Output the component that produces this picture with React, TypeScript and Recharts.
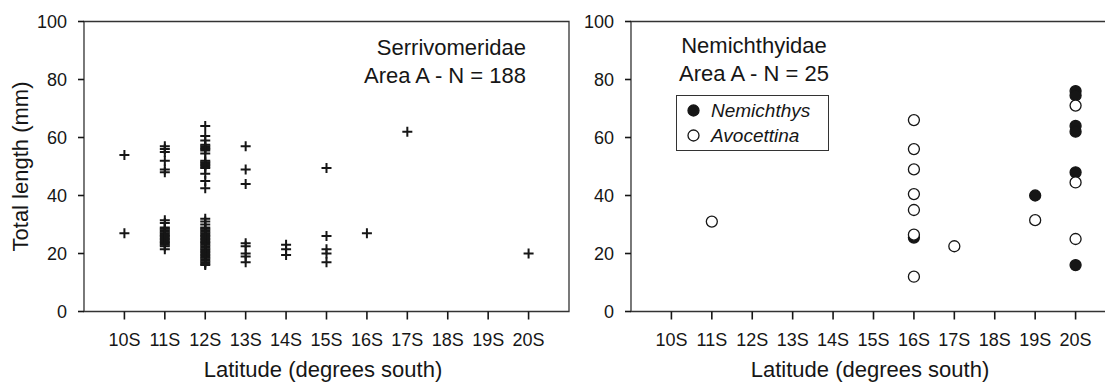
import React from "react";
import { ScatterChart, Scatter, XAxis, YAxis, Legend, ReferenceArea } from "recharts";

const FONT = '"Liberation Sans", Arial, Helvetica, sans-serif';
const INK = "#161616";
const AXIS = "#333333";

const latTicks = [10, 11, 12, 13, 14, 15, 16, 17, 18, 19, 20];
const lengthTicks = [0, 20, 40, 60, 80, 100];

// Serrivomeridae, total length (mm) by latitude
const serri10S = [54, 27];
const serri11S = [57, 56, 55, 52, 49, 48, 31.5, 30.5, 29, 28.5, 28, 27.5, 27, 26.5, 26, 25.5, 25, 24.5, 24, 23.5, 23, 22.5, 21.5];
const serri12S = [
  64, 60.5, 59, 57.5, 57, 56.5, 56, 55.5, 54.5, 52, 51.5, 51, 50.5, 50, 49.5, 47.5, 45, 42.5,
  32, 31, 30, 29, 28.5, 28, 27.5, 27, 26.5, 26, 25.5, 25, 24.5, 24, 23.5, 23, 22.5, 22, 21.5,
  21, 20.5, 20, 19.5, 19, 18.5, 18, 17.5, 17, 16.5, 16,
];
const serri13S = [57, 49, 44, 23.5, 22.5, 20, 19, 17];
const serri14S = [23, 21.5, 19.5];
const serri15S = [49.5, 26, 21.5, 20, 17];
const serri16S = [27];
const serri17S = [62];
const serri20S = [20];

// Nemichthyidae
const nemichthysLat = [16, 19, 20, 20, 20, 20, 20, 20];
const nemichthysLen = [25.5, 40, 76, 74.5, 64, 62, 48, 16];
const avocettinaLat = [11, 16, 16, 16, 16, 16, 16, 16, 17, 19, 20, 20, 20];
const avocettinaLen = [31, 66, 56, 49, 40.5, 35, 26.5, 12, 22.5, 31.5, 71, 44.5, 25];

type Pt = { lat: number; len: number };

const serriPoints: Pt[] = ([
  [10, serri10S],
  [11, serri11S],
  [12, serri12S],
  [13, serri13S],
  [14, serri14S],
  [15, serri15S],
  [16, serri16S],
  [17, serri17S],
  [20, serri20S],
] as [number, number[]][]).flatMap(([lat, lens]) => lens.map((len) => ({ lat, len })));

const nemichthysPoints: Pt[] = nemichthysLat.map((lat, i) => ({ lat, len: nemichthysLen[i] }));
const avocettinaPoints: Pt[] = avocettinaLat.map((lat, i) => ({ lat, len: avocettinaLen[i] }));

// frame of each panel; the plot area is padded a little on the left and
// bottom so the outward tick marks stay inside it
const FRAME_X = [9, 21];
const FRAME_Y = [0, 100];
const X_DOMAIN = [8.827, 21];
const Y_DOMAIN = [-3.1, 100];

const xTickMarks: Pt[] = latTicks.map((lat) => ({ lat, len: FRAME_Y[0] }));
const yTickMarks: Pt[] = lengthTicks.map((len) => ({ lat: FRAME_X[0], len }));

const PlusMark = (p: any) => (
  <path
    d={`M${p.cx - 5},${p.cy}H${p.cx + 5}M${p.cx},${p.cy - 5}V${p.cy + 5}`}
    stroke={INK}
    strokeWidth={2}
    fill="none"
  />
);

const dot = (fill: string) => (p: any) => (
  <circle cx={p.cx} cy={p.cy} r={5.5} fill={fill} stroke={INK} strokeWidth={1.3} />
);

const X_TICK = 8;
const Y_TICK = 6;

const XTickMark = (p: any) => (
  <path d={`M${p.cx},${p.cy}V${p.cy + X_TICK}`} stroke={INK} strokeWidth={1.6} fill="none" />
);
const YTickMark = (p: any) => (
  <path d={`M${p.cx - Y_TICK},${p.cy}H${p.cx}`} stroke={INK} strokeWidth={1.6} fill="none" />
);

const LatTick = (p: any) => (
  <text x={p.x} y={p.y} dy="0.71em" textAnchor="middle" fontSize={18} fill={INK} fontFamily={FONT}>
    {`${p.payload.value}S`}
  </text>
);

const LenTick = (p: any) => (
  <text x={p.x} y={p.y} dy="0.355em" textAnchor="end" fontSize={18} fill={INK} fontFamily={FONT}>
    {p.payload.value}
  </text>
);

const YTitle = () => (
  <text
    x={28}
    y={166.5}
    transform="rotate(-90 28 166.5)"
    textAnchor="middle"
    fontSize={22}
    fill={INK}
    fontFamily={FONT}
  >
    Total length (mm)
  </text>
);

const xAxisLabel = {
  value: "Latitude (degrees south)",
  position: "insideBottom" as const,
  offset: 5,
  fontSize: 22,
  fill: INK,
  fontFamily: FONT,
};

const legendItems = [
  { name: "Nemichthys", fill: INK },
  { name: "Avocettina", fill: "#ffffff" },
];

const NemLegend = () => (
  <div
    style={{
      border: `1.3px solid ${AXIS}`,
      background: "#fff",
      padding: "2px 0",
      width: 151,
      boxSizing: "content-box",
    }}
  >
    {legendItems.map((it) => (
      <div key={it.name} style={{ display: "flex", alignItems: "center", height: 25 }}>
        <svg width={34} height={25} style={{ display: "block" }}>
          <circle cx={16.5} cy={12.5} r={5.5} fill={it.fill} stroke={INK} strokeWidth={1.3} />
        </svg>
        <span style={{ fontFamily: FONT, fontSize: 19, fontStyle: "italic", color: INK, lineHeight: "25px" }}>
          {it.name}
        </span>
      </div>
    ))}
  </div>
);

const titleStyle: React.CSSProperties = {
  position: "absolute",
  fontFamily: FONT,
  fontSize: 22,
  lineHeight: "27.5px",
  color: INK,
  whiteSpace: "nowrap",
};

const CHART_W = 580;
const CHART_H = 382;
const MARGIN = { top: 21.5, right: 11, bottom: 0, left: 0 };

export default function App() {
  return (
    <div
      style={{
        position: "absolute",
        left: 0,
        top: 0,
        width: 1105,
        height: 382,
        overflow: "hidden",
        background: "#fff",
      }}
    >
      <div style={{ position: "absolute", left: 0, top: 0 }}>
        <ScatterChart width={CHART_W} height={CHART_H} margin={MARGIN}>
          <XAxis
            xAxisId="b"
            dataKey="lat"
            type="number"
            domain={X_DOMAIN}
            ticks={latTicks}
            interval={0}
            tick={LatTick}
            tickSize={0}
            tickMargin={13}
            tickLine={false}
            axisLine={false}
            height={61.5}
            label={xAxisLabel}
          />
          <YAxis
            yAxisId="l"
            dataKey="len"
            type="number"
            domain={Y_DOMAIN}
            ticks={lengthTicks}
            interval={0}
            tick={LenTick}
            tickSize={0}
            tickMargin={10}
            tickLine={false}
            axisLine={false}
            width={77}
            label={{ content: YTitle }}
          />
          <ReferenceArea
            xAxisId="b"
            yAxisId="l"
            x1={FRAME_X[0]}
            x2={FRAME_X[1]}
            y1={FRAME_Y[0]}
            y2={FRAME_Y[1]}
            fill="none"
            fillOpacity={0}
            stroke={AXIS}
            strokeWidth={1.3}
            strokeOpacity={1}
          />
          <Scatter
            name="Serrivomeridae"
            data={serriPoints}
            xAxisId="b"
            yAxisId="l"
            shape={PlusMark}
            isAnimationActive={false}
          />
          <Scatter
            name="xticks"
            data={xTickMarks}
            xAxisId="b"
            yAxisId="l"
            shape={XTickMark}
            legendType="none"
            isAnimationActive={false}
          />
          <Scatter
            name="yticks"
            data={yTickMarks}
            xAxisId="b"
            yAxisId="l"
            shape={YTickMark}
            legendType="none"
            isAnimationActive={false}
          />
        </ScatterChart>
      </div>
      <div style={{ ...titleStyle, left: 300, top: 34, width: 226, textAlign: "right" }}>
        Serrivomeridae
        <br />
        Area A - N = 188
      </div>

      <div style={{ position: "absolute", left: 547, top: 0 }}>
        <ScatterChart width={CHART_W} height={CHART_H} margin={MARGIN}>
          <XAxis
            xAxisId="b"
            dataKey="lat"
            type="number"
            domain={X_DOMAIN}
            ticks={latTicks}
            interval={0}
            tick={LatTick}
            tickSize={0}
            tickMargin={13}
            tickLine={false}
            axisLine={false}
            height={61.5}
            label={xAxisLabel}
          />
          <YAxis
            yAxisId="l"
            dataKey="len"
            type="number"
            domain={Y_DOMAIN}
            ticks={lengthTicks}
            interval={0}
            tick={LenTick}
            tickSize={0}
            tickMargin={10}
            tickLine={false}
            axisLine={false}
            width={77}
          />
          <ReferenceArea
            xAxisId="b"
            yAxisId="l"
            x1={FRAME_X[0]}
            x2={FRAME_X[1]}
            y1={FRAME_Y[0]}
            y2={FRAME_Y[1]}
            fill="none"
            fillOpacity={0}
            stroke={AXIS}
            strokeWidth={1.3}
            strokeOpacity={1}
          />
          <Scatter
            name="Nemichthys"
            data={nemichthysPoints}
            xAxisId="b"
            yAxisId="l"
            shape={dot(INK)}
            isAnimationActive={false}
          />
          <Scatter
            name="Avocettina"
            data={avocettinaPoints}
            xAxisId="b"
            yAxisId="l"
            shape={dot("#ffffff")}
            isAnimationActive={false}
          />
          <Scatter
            name="xticks"
            data={xTickMarks}
            xAxisId="b"
            yAxisId="l"
            shape={XTickMark}
            legendType="none"
            isAnimationActive={false}
          />
          <Scatter
            name="yticks"
            data={yTickMarks}
            xAxisId="b"
            yAxisId="l"
            shape={YTickMark}
            legendType="none"
            isAnimationActive={false}
          />
          <Legend
            layout="vertical"
            align="center"
            verticalAlign="middle"
            content={NemLegend}
            wrapperStyle={{ left: 129, top: 95, width: "auto", height: "auto", bottom: "auto", right: "auto" }}
          />
        </ScatterChart>
      </div>
      <div style={{ ...titleStyle, left: 604, top: 32, width: 300, textAlign: "center" }}>
        Nemichthyidae
        <br />
        Area A - N = 25
      </div>
    </div>
  );
}
